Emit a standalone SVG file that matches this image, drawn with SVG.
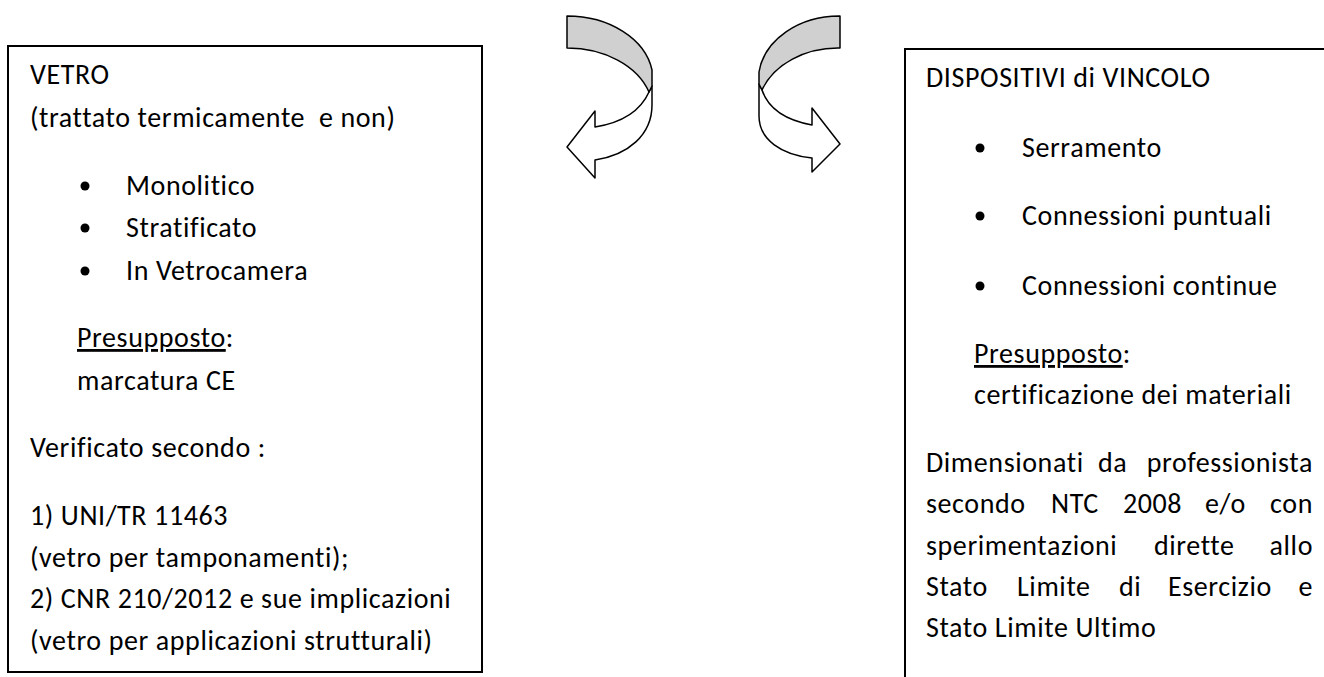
<svg xmlns="http://www.w3.org/2000/svg" width="1324" height="677" viewBox="0 0 1324 677">
<style>
text{font-family:Calibri,Carlito,Lato,"Liberation Sans",sans-serif;font-size:28px;letter-spacing:0.6px;font-variant-ligatures:none;fill:#000}
.box{fill:#fff;stroke:#000;stroke-width:2}
.band{fill:#d0d0d0;stroke:#000;stroke-width:1.5;stroke-linejoin:round}
.arr{fill:#fff;stroke:#000;stroke-width:1.5;stroke-linejoin:round}
.end{text-anchor:end}
</style>
<rect width="1324" height="677" fill="#fff"/>
<g id="vetro">
<rect class="box" x="8" y="46" width="474" height="626"/>
<text x="30" y="84">VETRO</text>
<text x="30" y="127" xml:space="preserve">(trattato termicamente  e non)</text>
<circle cx="85" cy="186" r="4.5"/>
<text x="126" y="195">Monolitico</text>
<circle cx="85" cy="228" r="4.5"/>
<text x="126" y="237">Stratificato</text>
<circle cx="85" cy="271" r="4.5"/>
<text x="126" y="280">In Vetrocamera</text>
<text x="77" y="347"><tspan text-decoration="underline">Presupposto</tspan>:</text>
<text x="77" y="390">marcatura CE</text>
<text x="30" y="457">Verificato secondo :</text>
<text x="30" y="525">1) UNI/TR 11463</text>
<text x="30" y="567">(vetro per tamponamenti);</text>
<text x="30" y="608">2) CNR 210/2012 e sue implicazioni</text>
<text x="30" y="650">(vetro per applicazioni strutturali)</text>
</g>
<g id="dispositivi">
<path class="box" d="M905,680 L905,49 L1330,49"/>
<text x="926" y="87">DISPOSITIVI di VINCOLO</text>
<circle cx="980" cy="148" r="4.5"/>
<text x="1022" y="157">Serramento</text>
<circle cx="980" cy="216" r="4.5"/>
<text x="1022" y="225">Connessioni puntuali</text>
<circle cx="980" cy="286" r="4.5"/>
<text x="1022" y="295">Connessioni continue</text>
<text x="974" y="363"><tspan text-decoration="underline">Presupposto</tspan>:</text>
<text x="974" y="404">certificazione dei materiali</text>
<text y="472"><tspan x="926">Dimensionati</tspan><tspan x="1098">da</tspan></text>
<text y="472" x="1313" class="end">professionista</text>
<text y="513"><tspan x="926">secondo</tspan><tspan x="1051">NTC</tspan><tspan x="1123">2008</tspan><tspan x="1205">e/o</tspan></text>
<text y="513" x="1313" class="end">con</text>
<text y="555" x="926">sperimentazioni</text>
<text y="555" x="1154">dirette</text>
<text y="555" x="1313" class="end">allo</text>
<text y="596"><tspan x="926">Stato</tspan><tspan x="1017">Limite</tspan><tspan x="1119">di</tspan><tspan x="1168">Esercizio</tspan></text>
<text y="596" x="1313" class="end">e</text>
<text x="926" y="637">Stato Limite Ultimo</text>
</g>
<g id="connectors">
<g id="arrow-left">
<path class="arr" d="M649,92 L652,86 L652,105 C652,135 628,155 595,160 L595,178 L567,147 L595,111 L595,127 C620,123 640,112 649,92 Z"/>
<path class="band" d="M567,16 A86,64 0 0 1 652,70 L652,86 L649,92 A86,64 0 0 0 567,48 Z"/>
</g>
<g id="arrow-right">
<path class="arr" d="M762,90 L759,84 L759,116 C759,140 782,155 812,158 L812,172 L840,144 L812,108 L812,125 C785,120 768,108 762,90 Z"/>
<path class="band" d="M840,16 A81,64 0 0 0 759,72 L759,84 L762,90 A81,64 0 0 1 840,48 Z"/>
</g>
</g>
</svg>
